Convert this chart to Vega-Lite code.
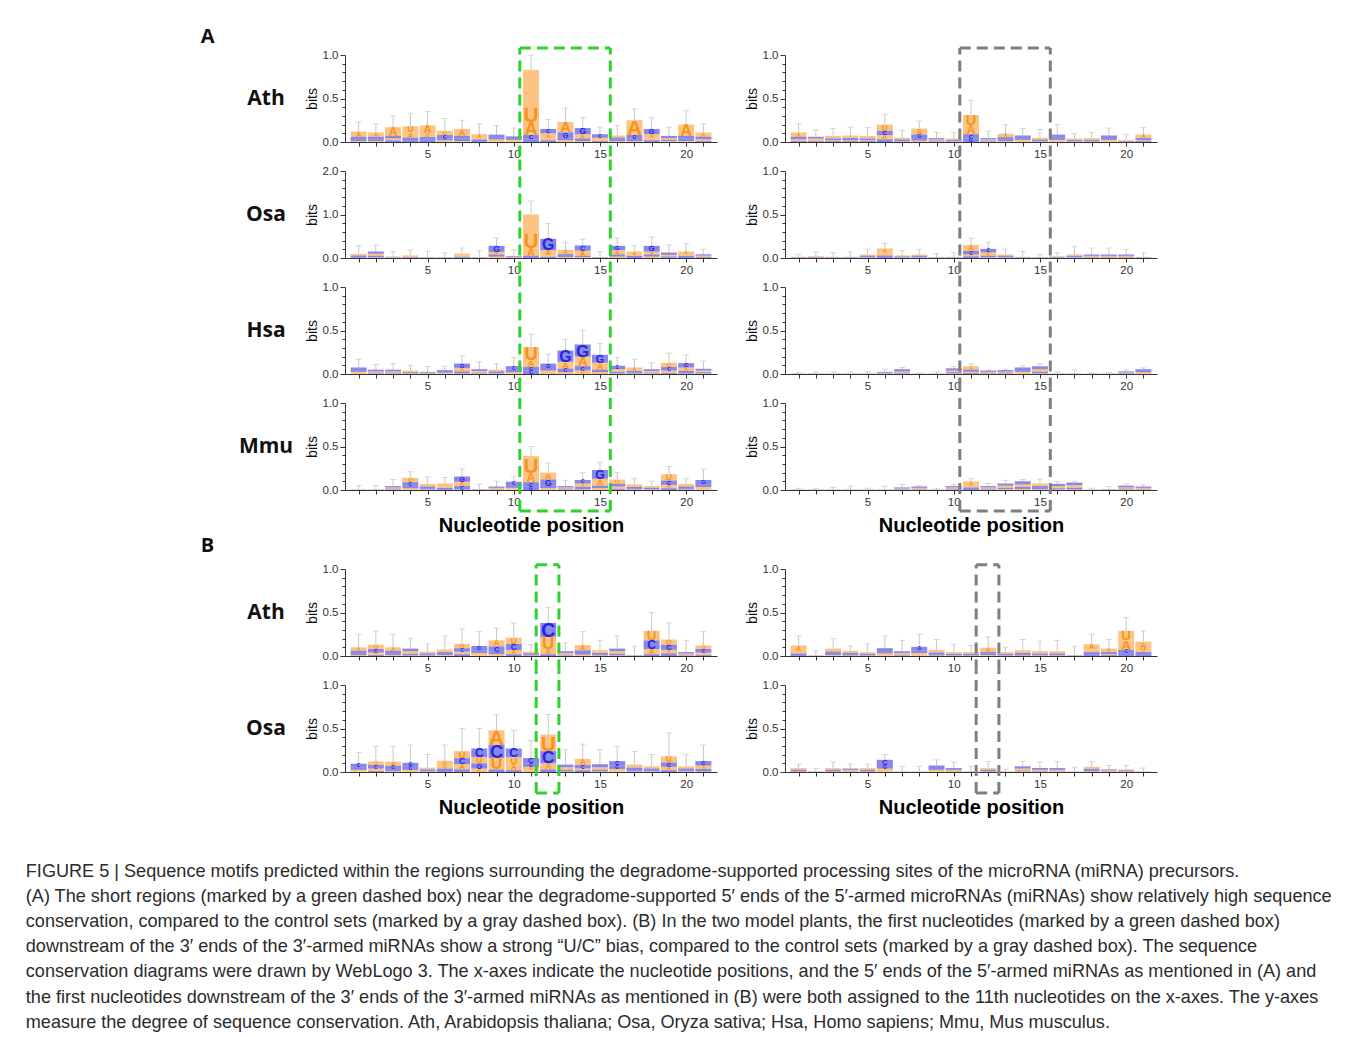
{
"$schema":"https://vega.github.io/schema/vega-lite/v6.json",
"padding":{"left":25,"top":27,"right":10,"bottom":5},
"background":"white",
"config":{"view":{"stroke":null},"font":"Liberation Sans",
"axis":{"grid":false,"domainColor":"#333","tickColor":"#333","labelColor":"#333","labelFont":"Liberation Sans","labelFontSize":11.5,"titleFont":"Liberation Sans","titleColor":"#111","labelOverlap":false,"labelBound":false,"labelFlush":false},
"axisX":{"labelPadding":2,"titleFontSize":20,"titleFontWeight":"bold","titlePadding":8,"titleColor":"#000","tickCount":30},
"axisY":{"labelPadding":2,"titleFontSize":14,"titleFontWeight":"normal","titlePadding":3,"tickCount":30}},
"datasets":{"logo":[
{"p":"a1","pos":1,"A":0.06,"C":0.03,"G":0.02,"U":0.01,"e":0.23},
{"p":"a1","pos":2,"A":0.05,"C":0.03,"G":0.02,"U":0.01,"e":0.21},
{"p":"a1","pos":3,"A":0.1,"C":0.03,"G":0.02,"U":0.02,"e":0.3},
{"p":"a1","pos":4,"A":0.06,"C":0.03,"G":0.02,"U":0.07,"e":0.33},
{"p":"a1","pos":5,"A":0.09,"C":0.03,"G":0.03,"U":0.04,"e":0.35},
{"p":"a1","pos":6,"A":0.02,"C":0.04,"G":0.02,"U":0.05,"e":0.27},
{"p":"a1","pos":7,"A":0.08,"C":0.03,"G":0.03,"U":0.01,"e":0.25},
{"p":"a1","pos":8,"A":0.04,"C":0.02,"G":0.01,"U":0.02,"e":0.21},
{"p":"a1","pos":9,"A":0.02,"C":0.025,"G":0.03,"U":0.01,"e":0.19},
{"p":"a1","pos":10,"A":0.015,"C":0.02,"G":0.02,"U":0.01,"e":0.16},
{"p":"a1","pos":11,"A":0.15,"C":0.05,"G":0.03,"U":0.6,"e":1.0},
{"p":"a1","pos":12,"A":0.05,"C":0.05,"G":0.02,"U":0.03,"e":0.26},
{"p":"a1","pos":13,"A":0.12,"C":0.03,"G":0.06,"U":0.02,"e":0.39},
{"p":"a1","pos":14,"A":0.05,"C":0.03,"G":0.07,"U":0.01,"e":0.28},
{"p":"a1","pos":15,"A":0.02,"C":0.04,"G":0.01,"U":0.02,"e":0.17},
{"p":"a1","pos":16,"A":0.025,"C":0.02,"G":0.02,"U":0.01,"e":0.19},
{"p":"a1","pos":17,"A":0.17,"C":0.03,"G":0.04,"U":0.01,"e":0.38},
{"p":"a1","pos":18,"A":0.04,"C":0.02,"G":0.06,"U":0.03,"e":0.28},
{"p":"a1","pos":19,"A":0.02,"C":0.025,"G":0.015,"U":0.01,"e":0.17},
{"p":"a1","pos":20,"A":0.13,"C":0.03,"G":0.03,"U":0.01,"e":0.36},
{"p":"a1","pos":21,"A":0.05,"C":0.03,"G":0.01,"U":0.02,"e":0.21},
{"p":"a2","pos":1,"A":0.04,"C":0.03,"G":0.02,"U":0.005,"e":0.28},
{"p":"a2","pos":2,"A":0.05,"C":0.04,"G":0.05,"U":0.01,"e":0.3},
{"p":"a2","pos":3,"A":0.01,"C":0.01,"G":0.005,"U":0.005,"e":0.15},
{"p":"a2","pos":4,"A":0.03,"C":0.01,"G":0.01,"U":0.01,"e":0.18},
{"p":"a2","pos":5,"A":0.005,"C":0.005,"G":0.005,"U":0.005,"e":0.15},
{"p":"a2","pos":6,"A":0.005,"C":0.005,"G":0.005,"U":0.005,"e":0.12},
{"p":"a2","pos":7,"A":0.04,"C":0.02,"G":0.01,"U":0.03,"e":0.23},
{"p":"a2","pos":8,"A":0.005,"C":0.005,"G":0.005,"U":0.005,"e":0.17},
{"p":"a2","pos":9,"A":0.06,"C":0.05,"G":0.14,"U":0.03,"e":0.46},
{"p":"a2","pos":10,"A":0.015,"C":0.015,"G":0.01,"U":0.005,"e":0.19},
{"p":"a2","pos":11,"A":0.17,"C":0.03,"G":0.02,"U":0.78,"e":1.31},
{"p":"a2","pos":12,"A":0.12,"C":0.03,"G":0.26,"U":0.03,"e":0.79},
{"p":"a2","pos":13,"A":0.1,"C":0.04,"G":0.03,"U":0.02,"e":0.36},
{"p":"a2","pos":14,"A":0.12,"C":0.12,"G":0.03,"U":0.02,"e":0.43},
{"p":"a2","pos":15,"A":0.01,"C":0.005,"G":0.005,"U":0.005,"e":0.15},
{"p":"a2","pos":16,"A":0.1,"C":0.05,"G":0.1,"U":0.03,"e":0.46},
{"p":"a2","pos":17,"A":0.07,"C":0.03,"G":0.02,"U":0.03,"e":0.28},
{"p":"a2","pos":18,"A":0.07,"C":0.05,"G":0.13,"U":0.03,"e":0.48},
{"p":"a2","pos":19,"A":0.04,"C":0.05,"G":0.03,"U":0.005,"e":0.3},
{"p":"a2","pos":20,"A":0.06,"C":0.03,"G":0.02,"U":0.04,"e":0.33},
{"p":"a2","pos":21,"A":0.03,"C":0.03,"G":0.02,"U":0.005,"e":0.2},
{"p":"a3","pos":1,"A":0.02,"C":0.03,"G":0.02,"U":0.005,"e":0.17},
{"p":"a3","pos":2,"A":0.015,"C":0.02,"G":0.01,"U":0.005,"e":0.11},
{"p":"a3","pos":3,"A":0.015,"C":0.02,"G":0.01,"U":0.005,"e":0.12},
{"p":"a3","pos":4,"A":0.02,"C":0.01,"G":0.005,"U":0.005,"e":0.1},
{"p":"a3","pos":5,"A":0.005,"C":0.01,"G":0.005,"U":0.005,"e":0.085},
{"p":"a3","pos":6,"A":0.01,"C":0.02,"G":0.01,"U":0.005,"e":0.09},
{"p":"a3","pos":7,"A":0.04,"C":0.025,"G":0.05,"U":0.005,"e":0.21},
{"p":"a3","pos":8,"A":0.02,"C":0.02,"G":0.01,"U":0.005,"e":0.14},
{"p":"a3","pos":9,"A":0.02,"C":0.015,"G":0.01,"U":0.005,"e":0.12},
{"p":"a3","pos":10,"A":0.015,"C":0.04,"G":0.03,"U":0.005,"e":0.19},
{"p":"a3","pos":11,"A":0.08,"C":0.04,"G":0.04,"U":0.15,"e":0.46},
{"p":"a3","pos":12,"A":0.03,"C":0.03,"G":0.05,"U":0.01,"e":0.23},
{"p":"a3","pos":13,"A":0.08,"C":0.04,"G":0.13,"U":0.02,"e":0.4},
{"p":"a3","pos":14,"A":0.11,"C":0.05,"G":0.14,"U":0.04,"e":0.5},
{"p":"a3","pos":15,"A":0.08,"C":0.03,"G":0.09,"U":0.02,"e":0.35},
{"p":"a3","pos":16,"A":0.03,"C":0.04,"G":0.02,"U":0.005,"e":0.19},
{"p":"a3","pos":17,"A":0.04,"C":0.02,"G":0.01,"U":0.005,"e":0.17},
{"p":"a3","pos":18,"A":0.02,"C":0.02,"G":0.01,"U":0.005,"e":0.13},
{"p":"a3","pos":19,"A":0.03,"C":0.04,"G":0.01,"U":0.05,"e":0.24},
{"p":"a3","pos":20,"A":0.04,"C":0.05,"G":0.03,"U":0.005,"e":0.22},
{"p":"a3","pos":21,"A":0.02,"C":0.02,"G":0.015,"U":0.005,"e":0.15},
{"p":"a4","pos":1,"A":0.002,"C":0.002,"G":0.001,"U":0.001,"e":0.05},
{"p":"a4","pos":2,"A":0.002,"C":0.002,"G":0.001,"U":0.001,"e":0.05},
{"p":"a4","pos":3,"A":0.015,"C":0.015,"G":0.01,"U":0.005,"e":0.12},
{"p":"a4","pos":4,"A":0.02,"C":0.04,"G":0.03,"U":0.05,"e":0.21},
{"p":"a4","pos":5,"A":0.03,"C":0.02,"G":0.015,"U":0.005,"e":0.15},
{"p":"a4","pos":6,"A":0.03,"C":0.02,"G":0.005,"U":0.02,"e":0.145},
{"p":"a4","pos":7,"A":0.05,"C":0.04,"G":0.06,"U":0.005,"e":0.24},
{"p":"a4","pos":8,"A":0.003,"C":0.003,"G":0.002,"U":0.002,"e":0.065},
{"p":"a4","pos":9,"A":0.015,"C":0.015,"G":0.005,"U":0.005,"e":0.1},
{"p":"a4","pos":10,"A":0.02,"C":0.04,"G":0.03,"U":0.005,"e":0.16},
{"p":"a4","pos":11,"A":0.1,"C":0.05,"G":0.04,"U":0.2,"e":0.5},
{"p":"a4","pos":12,"A":0.08,"C":0.03,"G":0.07,"U":0.02,"e":0.31},
{"p":"a4","pos":13,"A":0.015,"C":0.015,"G":0.01,"U":0.005,"e":0.11},
{"p":"a4","pos":14,"A":0.04,"C":0.04,"G":0.03,"U":0.005,"e":0.2},
{"p":"a4","pos":15,"A":0.08,"C":0.03,"G":0.1,"U":0.02,"e":0.32},
{"p":"a4","pos":16,"A":0.03,"C":0.03,"G":0.01,"U":0.05,"e":0.2},
{"p":"a4","pos":17,"A":0.03,"C":0.02,"G":0.01,"U":0.005,"e":0.13},
{"p":"a4","pos":18,"A":0.02,"C":0.015,"G":0.005,"U":0.005,"e":0.1},
{"p":"a4","pos":19,"A":0.04,"C":0.05,"G":0.02,"U":0.07,"e":0.27},
{"p":"a4","pos":20,"A":0.03,"C":0.02,"G":0.015,"U":0.005,"e":0.13},
{"p":"a4","pos":21,"A":0.03,"C":0.03,"G":0.05,"U":0.005,"e":0.24},
{"p":"r1","pos":1,"A":0.05,"C":0.03,"G":0.01,"U":0.02,"e":0.21},
{"p":"r1","pos":2,"A":0.02,"C":0.02,"G":0.01,"U":0.01,"e":0.14},
{"p":"r1","pos":3,"A":0.03,"C":0.02,"G":0.01,"U":0.01,"e":0.155},
{"p":"r1","pos":4,"A":0.03,"C":0.025,"G":0.01,"U":0.01,"e":0.17},
{"p":"r1","pos":5,"A":0.03,"C":0.02,"G":0.01,"U":0.01,"e":0.165},
{"p":"r1","pos":6,"A":0.05,"C":0.05,"G":0.03,"U":0.07,"e":0.32},
{"p":"r1","pos":7,"A":0.02,"C":0.015,"G":0.01,"U":0.005,"e":0.135},
{"p":"r1","pos":8,"A":0.07,"C":0.03,"G":0.04,"U":0.015,"e":0.24},
{"p":"r1","pos":9,"A":0.015,"C":0.015,"G":0.01,"U":0.005,"e":0.11},
{"p":"r1","pos":10,"A":0.015,"C":0.01,"G":0.01,"U":0.005,"e":0.11},
{"p":"r1","pos":11,"A":0.1,"C":0.05,"G":0.04,"U":0.12,"e":0.48},
{"p":"r1","pos":12,"A":0.015,"C":0.015,"G":0.01,"U":0.005,"e":0.125},
{"p":"r1","pos":13,"A":0.04,"C":0.03,"G":0.015,"U":0.01,"e":0.2},
{"p":"r1","pos":14,"A":0.02,"C":0.03,"G":0.02,"U":0.005,"e":0.155},
{"p":"r1","pos":15,"A":0.02,"C":0.015,"G":0.01,"U":0.005,"e":0.145},
{"p":"r1","pos":16,"A":0.02,"C":0.035,"G":0.025,"U":0.005,"e":0.2},
{"p":"r1","pos":17,"A":0.015,"C":0.01,"G":0.01,"U":0.005,"e":0.095},
{"p":"r1","pos":18,"A":0.02,"C":0.01,"G":0.01,"U":0.005,"e":0.11},
{"p":"r1","pos":19,"A":0.02,"C":0.03,"G":0.02,"U":0.005,"e":0.16},
{"p":"r1","pos":20,"A":0.008,"C":0.006,"G":0.004,"U":0.002,"e":0.085},
{"p":"r1","pos":21,"A":0.04,"C":0.025,"G":0.01,"U":0.01,"e":0.165},
{"p":"r2","pos":1,"A":0.005,"C":0.004,"G":0.003,"U":0.002,"e":0.04},
{"p":"r2","pos":2,"A":0.008,"C":0.006,"G":0.004,"U":0.002,"e":0.07},
{"p":"r2","pos":3,"A":0.005,"C":0.004,"G":0.003,"U":0.002,"e":0.06},
{"p":"r2","pos":4,"A":0.005,"C":0.004,"G":0.003,"U":0.002,"e":0.07},
{"p":"r2","pos":5,"A":0.015,"C":0.012,"G":0.008,"U":0.005,"e":0.1},
{"p":"r2","pos":6,"A":0.05,"C":0.02,"G":0.01,"U":0.03,"e":0.17},
{"p":"r2","pos":7,"A":0.012,"C":0.01,"G":0.005,"U":0.003,"e":0.085},
{"p":"r2","pos":8,"A":0.015,"C":0.012,"G":0.008,"U":0.005,"e":0.1},
{"p":"r2","pos":9,"A":0.003,"C":0.003,"G":0.002,"U":0.002,"e":0.05},
{"p":"r2","pos":10,"A":0.004,"C":0.004,"G":0.002,"U":0.002,"e":0.06},
{"p":"r2","pos":11,"A":0.07,"C":0.04,"G":0.02,"U":0.02,"e":0.23},
{"p":"r2","pos":12,"A":0.04,"C":0.04,"G":0.02,"U":0.005,"e":0.18},
{"p":"r2","pos":13,"A":0.015,"C":0.012,"G":0.008,"U":0.005,"e":0.1},
{"p":"r2","pos":14,"A":0.005,"C":0.004,"G":0.003,"U":0.002,"e":0.075},
{"p":"r2","pos":15,"A":0.003,"C":0.002,"G":0.002,"U":0.001,"e":0.04},
{"p":"r2","pos":16,"A":0.008,"C":0.006,"G":0.004,"U":0.002,"e":0.06},
{"p":"r2","pos":17,"A":0.015,"C":0.012,"G":0.008,"U":0.005,"e":0.13},
{"p":"r2","pos":18,"A":0.012,"C":0.015,"G":0.008,"U":0.005,"e":0.115},
{"p":"r2","pos":19,"A":0.012,"C":0.015,"G":0.008,"U":0.005,"e":0.115},
{"p":"r2","pos":20,"A":0.012,"C":0.015,"G":0.008,"U":0.005,"e":0.1},
{"p":"r2","pos":21,"A":0.004,"C":0.004,"G":0.002,"U":0.002,"e":0.06},
{"p":"r3","pos":1,"A":0.002,"C":0.002,"G":0.001,"U":0.001,"e":0.015},
{"p":"r3","pos":2,"A":0.002,"C":0.002,"G":0.001,"U":0.001,"e":0.025},
{"p":"r3","pos":3,"A":0.002,"C":0.002,"G":0.001,"U":0.001,"e":0.025},
{"p":"r3","pos":4,"A":0.002,"C":0.002,"G":0.001,"U":0.001,"e":0.025},
{"p":"r3","pos":5,"A":0.002,"C":0.002,"G":0.001,"U":0.001,"e":0.025},
{"p":"r3","pos":6,"A":0.008,"C":0.01,"G":0.005,"U":0.002,"e":0.055},
{"p":"r3","pos":7,"A":0.015,"C":0.025,"G":0.01,"U":0.005,"e":0.075},
{"p":"r3","pos":8,"A":0.001,"C":0.001,"G":0.001,"U":0.001,"e":0.01},
{"p":"r3","pos":9,"A":0.002,"C":0.002,"G":0.001,"U":0.001,"e":0.025},
{"p":"r3","pos":10,"A":0.02,"C":0.025,"G":0.015,"U":0.005,"e":0.085},
{"p":"r3","pos":11,"A":0.04,"C":0.025,"G":0.01,"U":0.015,"e":0.115},
{"p":"r3","pos":12,"A":0.012,"C":0.015,"G":0.008,"U":0.005,"e":0.045},
{"p":"r3","pos":13,"A":0.012,"C":0.018,"G":0.01,"U":0.005,"e":0.055},
{"p":"r3","pos":14,"A":0.02,"C":0.03,"G":0.02,"U":0.005,"e":0.095},
{"p":"r3","pos":15,"A":0.03,"C":0.035,"G":0.02,"U":0.005,"e":0.12},
{"p":"r3","pos":16,"A":0.002,"C":0.002,"G":0.001,"U":0.001,"e":0.025},
{"p":"r3","pos":17,"A":0.002,"C":0.002,"G":0.001,"U":0.001,"e":0.045},
{"p":"r3","pos":18,"A":0.001,"C":0.001,"G":0.001,"U":0.001,"e":0.01},
{"p":"r3","pos":19,"A":0.002,"C":0.002,"G":0.001,"U":0.001,"e":0.015},
{"p":"r3","pos":20,"A":0.01,"C":0.012,"G":0.006,"U":0.002,"e":0.045},
{"p":"r3","pos":21,"A":0.015,"C":0.02,"G":0.015,"U":0.005,"e":0.07},
{"p":"r4","pos":1,"A":0.002,"C":0.002,"G":0.001,"U":0.001,"e":0.02},
{"p":"r4","pos":2,"A":0.002,"C":0.002,"G":0.001,"U":0.001,"e":0.02},
{"p":"r4","pos":3,"A":0.002,"C":0.002,"G":0.001,"U":0.001,"e":0.03},
{"p":"r4","pos":4,"A":0.002,"C":0.002,"G":0.001,"U":0.001,"e":0.045},
{"p":"r4","pos":5,"A":0.002,"C":0.002,"G":0.001,"U":0.001,"e":0.02},
{"p":"r4","pos":6,"A":0.002,"C":0.002,"G":0.001,"U":0.001,"e":0.045},
{"p":"r4","pos":7,"A":0.01,"C":0.012,"G":0.006,"U":0.002,"e":0.065},
{"p":"r4","pos":8,"A":0.012,"C":0.015,"G":0.008,"U":0.005,"e":0.05},
{"p":"r4","pos":9,"A":0.002,"C":0.002,"G":0.001,"U":0.001,"e":0.02},
{"p":"r4","pos":10,"A":0.015,"C":0.015,"G":0.01,"U":0.005,"e":0.065},
{"p":"r4","pos":11,"A":0.05,"C":0.02,"G":0.01,"U":0.02,"e":0.13},
{"p":"r4","pos":12,"A":0.015,"C":0.015,"G":0.01,"U":0.005,"e":0.075},
{"p":"r4","pos":13,"A":0.025,"C":0.025,"G":0.015,"U":0.01,"e":0.11},
{"p":"r4","pos":14,"A":0.03,"C":0.035,"G":0.025,"U":0.01,"e":0.12},
{"p":"r4","pos":15,"A":0.03,"C":0.02,"G":0.015,"U":0.01,"e":0.125},
{"p":"r4","pos":16,"A":0.025,"C":0.025,"G":0.015,"U":0.005,"e":0.095},
{"p":"r4","pos":17,"A":0.03,"C":0.03,"G":0.02,"U":0.005,"e":0.1},
{"p":"r4","pos":18,"A":0.002,"C":0.002,"G":0.001,"U":0.001,"e":0.02},
{"p":"r4","pos":19,"A":0.004,"C":0.003,"G":0.002,"U":0.001,"e":0.04},
{"p":"r4","pos":20,"A":0.015,"C":0.02,"G":0.01,"U":0.005,"e":0.07},
{"p":"r4","pos":21,"A":0.012,"C":0.015,"G":0.008,"U":0.005,"e":0.06},
{"p":"b1","pos":1,"A":0.04,"C":0.03,"G":0.02,"U":0.01,"e":0.25},
{"p":"b1","pos":2,"A":0.03,"C":0.04,"G":0.01,"U":0.05,"e":0.285},
{"p":"b1","pos":3,"A":0.04,"C":0.03,"G":0.02,"U":0.01,"e":0.25},
{"p":"b1","pos":4,"A":0.03,"C":0.03,"G":0.02,"U":0.005,"e":0.2},
{"p":"b1","pos":5,"A":0.02,"C":0.015,"G":0.01,"U":0.005,"e":0.14},
{"p":"b1","pos":6,"A":0.03,"C":0.02,"G":0.015,"U":0.01,"e":0.23},
{"p":"b1","pos":7,"A":0.03,"C":0.04,"G":0.02,"U":0.05,"e":0.31},
{"p":"b1","pos":8,"A":0.03,"C":0.05,"G":0.03,"U":0.005,"e":0.28},
{"p":"b1","pos":9,"A":0.07,"C":0.06,"G":0.03,"U":0.02,"e":0.32},
{"p":"b1","pos":10,"A":0.05,"C":0.07,"G":0.02,"U":0.07,"e":0.38},
{"p":"b1","pos":11,"A":0.02,"C":0.015,"G":0.01,"U":0.005,"e":0.13},
{"p":"b1","pos":12,"A":0.06,"C":0.16,"G":0.02,"U":0.14,"e":0.56},
{"p":"b1","pos":13,"A":0.02,"C":0.02,"G":0.01,"U":0.005,"e":0.15},
{"p":"b1","pos":14,"A":0.06,"C":0.03,"G":0.02,"U":0.015,"e":0.28},
{"p":"b1","pos":15,"A":0.03,"C":0.02,"G":0.01,"U":0.005,"e":0.18},
{"p":"b1","pos":16,"A":0.03,"C":0.03,"G":0.02,"U":0.005,"e":0.23},
{"p":"b1","pos":17,"A":0.004,"C":0.003,"G":0.002,"U":0.001,"e":0.11},
{"p":"b1","pos":18,"A":0.06,"C":0.1,"G":0.02,"U":0.11,"e":0.5},
{"p":"b1","pos":19,"A":0.04,"C":0.06,"G":0.03,"U":0.06,"e":0.38},
{"p":"b1","pos":20,"A":0.015,"C":0.015,"G":0.01,"U":0.005,"e":0.18},
{"p":"b1","pos":21,"A":0.03,"C":0.04,"G":0.01,"U":0.04,"e":0.28},
{"p":"b2","pos":1,"A":0.02,"C":0.04,"G":0.03,"U":0.005,"e":0.225},
{"p":"b2","pos":2,"A":0.03,"C":0.04,"G":0.01,"U":0.04,"e":0.295},
{"p":"b2","pos":3,"A":0.05,"C":0.04,"G":0.02,"U":0.01,"e":0.295},
{"p":"b2","pos":4,"A":0.02,"C":0.04,"G":0.04,"U":0.005,"e":0.31},
{"p":"b2","pos":5,"A":0.02,"C":0.015,"G":0.01,"U":0.005,"e":0.2},
{"p":"b2","pos":6,"A":0.05,"C":0.03,"G":0.01,"U":0.04,"e":0.31},
{"p":"b2","pos":7,"A":0.06,"C":0.07,"G":0.03,"U":0.08,"e":0.5},
{"p":"b2","pos":8,"A":0.04,"C":0.1,"G":0.06,"U":0.07,"e":0.5},
{"p":"b2","pos":9,"A":0.17,"C":0.15,"G":0.03,"U":0.13,"e":0.66},
{"p":"b2","pos":10,"A":0.07,"C":0.1,"G":0.02,"U":0.08,"e":0.48},
{"p":"b2","pos":11,"A":0.04,"C":0.06,"G":0.04,"U":0.02,"e":0.36},
{"p":"b2","pos":12,"A":0.07,"C":0.14,"G":0.03,"U":0.19,"e":0.66},
{"p":"b2","pos":13,"A":0.03,"C":0.03,"G":0.02,"U":0.005,"e":0.255},
{"p":"b2","pos":14,"A":0.07,"C":0.04,"G":0.02,"U":0.02,"e":0.32},
{"p":"b2","pos":15,"A":0.03,"C":0.035,"G":0.02,"U":0.005,"e":0.255},
{"p":"b2","pos":16,"A":0.03,"C":0.05,"G":0.04,"U":0.005,"e":0.295},
{"p":"b2","pos":17,"A":0.035,"C":0.03,"G":0.015,"U":0.005,"e":0.235},
{"p":"b2","pos":18,"A":0.025,"C":0.02,"G":0.015,"U":0.005,"e":0.2},
{"p":"b2","pos":19,"A":0.04,"C":0.05,"G":0.02,"U":0.07,"e":0.45},
{"p":"b2","pos":20,"A":0.025,"C":0.02,"G":0.015,"U":0.005,"e":0.2},
{"p":"b2","pos":21,"A":0.04,"C":0.05,"G":0.03,"U":0.005,"e":0.31},
{"p":"b3","pos":1,"A":0.06,"C":0.02,"G":0.01,"U":0.03,"e":0.23},
{"p":"b3","pos":2,"A":0.002,"C":0.002,"G":0.001,"U":0.001,"e":0.06},
{"p":"b3","pos":3,"A":0.035,"C":0.025,"G":0.015,"U":0.01,"e":0.2},
{"p":"b3","pos":4,"A":0.025,"C":0.02,"G":0.01,"U":0.005,"e":0.115},
{"p":"b3","pos":5,"A":0.02,"C":0.015,"G":0.005,"U":0.005,"e":0.14},
{"p":"b3","pos":6,"A":0.025,"C":0.035,"G":0.025,"U":0.005,"e":0.23},
{"p":"b3","pos":7,"A":0.02,"C":0.02,"G":0.01,"U":0.005,"e":0.18},
{"p":"b3","pos":8,"A":0.03,"C":0.03,"G":0.04,"U":0.005,"e":0.25},
{"p":"b3","pos":9,"A":0.03,"C":0.02,"G":0.015,"U":0.005,"e":0.19},
{"p":"b3","pos":10,"A":0.02,"C":0.015,"G":0.005,"U":0.005,"e":0.135},
{"p":"b3","pos":11,"A":0.02,"C":0.015,"G":0.005,"U":0.005,"e":0.12},
{"p":"b3","pos":12,"A":0.05,"C":0.02,"G":0.015,"U":0.01,"e":0.22},
{"p":"b3","pos":13,"A":0.02,"C":0.015,"G":0.005,"U":0.005,"e":0.1},
{"p":"b3","pos":14,"A":0.03,"C":0.02,"G":0.01,"U":0.005,"e":0.19},
{"p":"b3","pos":15,"A":0.025,"C":0.015,"G":0.01,"U":0.005,"e":0.17},
{"p":"b3","pos":16,"A":0.025,"C":0.015,"G":0.01,"U":0.005,"e":0.18},
{"p":"b3","pos":17,"A":0.004,"C":0.003,"G":0.002,"U":0.001,"e":0.11},
{"p":"b3","pos":18,"A":0.06,"C":0.03,"G":0.015,"U":0.03,"e":0.25},
{"p":"b3","pos":19,"A":0.04,"C":0.025,"G":0.01,"U":0.01,"e":0.19},
{"p":"b3","pos":20,"A":0.11,"C":0.04,"G":0.03,"U":0.11,"e":0.44},
{"p":"b3","pos":21,"A":0.08,"C":0.03,"G":0.015,"U":0.04,"e":0.29},
{"p":"b4","pos":1,"A":0.02,"C":0.015,"G":0.005,"U":0.005,"e":0.09},
{"p":"b4","pos":2,"A":0.002,"C":0.002,"G":0.001,"U":0.001,"e":0.04},
{"p":"b4","pos":3,"A":0.02,"C":0.015,"G":0.005,"U":0.005,"e":0.115},
{"p":"b4","pos":4,"A":0.015,"C":0.015,"G":0.005,"U":0.005,"e":0.09},
{"p":"b4","pos":5,"A":0.02,"C":0.015,"G":0.005,"U":0.005,"e":0.09},
{"p":"b4","pos":6,"A":0.03,"C":0.06,"G":0.04,"U":0.01,"e":0.2},
{"p":"b4","pos":7,"A":0.002,"C":0.002,"G":0.001,"U":0.001,"e":0.065},
{"p":"b4","pos":8,"A":0.002,"C":0.002,"G":0.001,"U":0.001,"e":0.065},
{"p":"b4","pos":9,"A":0.02,"C":0.03,"G":0.02,"U":0.005,"e":0.14},
{"p":"b4","pos":10,"A":0.015,"C":0.02,"G":0.005,"U":0.005,"e":0.115},
{"p":"b4","pos":11,"A":0.002,"C":0.002,"G":0.001,"U":0.001,"e":0.065},
{"p":"b4","pos":12,"A":0.02,"C":0.015,"G":0.005,"U":0.005,"e":0.12},
{"p":"b4","pos":13,"A":0.002,"C":0.002,"G":0.001,"U":0.001,"e":0.03},
{"p":"b4","pos":14,"A":0.025,"C":0.025,"G":0.01,"U":0.005,"e":0.12},
{"p":"b4","pos":15,"A":0.015,"C":0.02,"G":0.005,"U":0.005,"e":0.115},
{"p":"b4","pos":16,"A":0.015,"C":0.02,"G":0.005,"U":0.005,"e":0.12},
{"p":"b4","pos":17,"A":0.002,"C":0.002,"G":0.001,"U":0.001,"e":0.055},
{"p":"b4","pos":18,"A":0.025,"C":0.02,"G":0.01,"U":0.005,"e":0.12},
{"p":"b4","pos":19,"A":0.01,"C":0.01,"G":0.005,"U":0.005,"e":0.075},
{"p":"b4","pos":20,"A":0.012,"C":0.01,"G":0.005,"U":0.003,"e":0.075},
{"p":"b4","pos":21,"A":0.002,"C":0.002,"G":0.001,"U":0.001,"e":0.045}
]},
"title":{"text":[
"FIGURE 5 | Sequence motifs predicted within the regions surrounding the degradome-supported processing sites of the microRNA (miRNA) precursors.",
"(A) The short regions (marked by a green dashed box) near the degradome-supported 5′ ends of the 5′-armed microRNAs (miRNAs) show relatively high sequence",
"conservation, compared to the control sets (marked by a gray dashed box). (B) In the two model plants, the first nucleotides (marked by a green dashed box)",
"downstream of the 3′ ends of the 3′-armed miRNAs show a strong “U/C” bias, compared to the control sets (marked by a gray dashed box). The sequence",
"conservation diagrams were drawn by WebLogo 3. The x-axes indicate the nucleotide positions, and the 5′ ends of the 5′-armed miRNAs as mentioned in (A) and",
"the first nucleotides downstream of the 3′ ends of the 3′-armed miRNAs as mentioned in (B) were both assigned to the 11th nucleotides on the x-axes. The y-axes",
"measure the degree of sequence conservation. Ath, Arabidopsis thaliana; Osa, Oryza sativa; Hsa, Homo sapiens; Mmu, Mus musculus."],
"orient":"bottom","anchor":"start","frame":"bounds","dx":-175,"offset":45,"font":"Liberation Sans","fontSize":18.1,"fontWeight":"normal","color":"#2b2b2b","lineHeight":25.2},
"columns":3,
"spacing":{"row":29,"column":68},
"bounds":"flush",
"resolve":{"scale":{"size":"independent"}},
"concat":[
{"title":{"text":"A","anchor":"start","dx":-46.5,"offset":-8,"baseline":"alphabetic","font":"Open Sans","fontSize":20,"fontWeight":"bold","color":"#111"},"width":22,"height":87,"data":{"values":[{"sp":"Ath"}]},"mark":{"type":"text","font":"Open Sans","fontSize":21,"fontWeight":"bold","color":"#111"},"encoding":{"text":{"field":"sp"}}},
{"width":372,"height":87,
"encoding":{"x":{"field":"pos","type":"quantitative","scale":{"domain":[0.5,21.5],"nice":false,"zero":false},"axis":{"values":[1,2,3,4,5,6,7,8,9,10,11,12,13,14,15,16,17,18,19,20,21],"tickCount":30,"labelExpr":"datum.value % 5 == 0 ? datum.label : ''","tickSize":4,"title":null}}},
"layer":[
{"data":{"name":"logo"},"transform":[{"filter":"datum.p=='a1'"},{"fold":["A","C","G","U"],"as":["l","b"]},{"filter":"datum.b>0"},{"stack":"b","groupby":["pos"],"sort":[{"field":"b","order":"ascending"}],"as":["b0","b1"]}],
"layer":[
{"transform":[{"aggregate":[{"op":"max","field":"b1","as":"t"},{"op":"max","field":"e","as":"e"}],"groupby":["pos"]}],"layer":[
{"mark":{"type":"rule","color":"#c8c8c8","strokeWidth":1},"encoding":{"y":{"field":"t","type":"quantitative","scale":{"domain":[0,1],"nice":false},"axis":{"values":[0,0.1,0.2,0.3,0.4,0.5,0.6,0.7,0.8,0.9,1],"tickCount":30,"labelExpr":"abs(datum.value*2-round(datum.value*2))<0.001 ? format(datum.value,'.1f') : ''","tickSize":{"condition":{"test":"abs(datum.value*2-round(datum.value*2))<0.001","value":5},"value":3},"title":"bits"}},"y2":{"field":"e"}}},
{"mark":{"type":"tick","orient":"horizontal","size":6,"thickness":1,"color":"#c8c8c8"},"encoding":{"y":{"field":"e","type":"quantitative","title":"bits"}}}]},
{"mark":{"type":"bar","width":16,"opacity":0.55},"encoding":{"y":{"field":"b0","type":"quantitative","title":"bits"},"y2":{"field":"b1"},"color":{"field":"l","type":"nominal","scale":{"domain":["A","C","G","U"],"range":["#f7941e","#2525dc","#2525dc","#f7941e"]},"legend":null}}},
{"transform":[{"filter":"datum.b>=0.04"}],"mark":{"type":"text","baseline":"alphabetic","font":"Liberation Sans","fontWeight":"bold"},"encoding":{"y":{"field":"b0","type":"quantitative","title":"bits"},"text":{"field":"l"},"color":{"field":"l","type":"nominal","legend":null},"size":{"field":"b","type":"quantitative","scale":{"domain":[0,0.17],"range":[0,20.7],"clamp":true},"legend":null}}}
]},
{"data":{"name":"logo"},"transform":[{"filter":"datum.p=='a1' && datum.pos==1"}],"layer":[
{"mark":{"type":"rule","color":"#2fd12f","strokeWidth":3,"strokeDash":[11,6]},"encoding":{"x":{"datum":10.35,"type":"quantitative"},"y":{"datum":-0.1667,"type":"quantitative","title":"bits"},"y2":{"datum":1.08}}},
{"mark":{"type":"rule","color":"#2fd12f","strokeWidth":3,"strokeDash":[11,6]},"encoding":{"x":{"datum":15.6,"type":"quantitative"},"y":{"datum":-0.1667,"type":"quantitative","title":"bits"},"y2":{"datum":1.08}}},
{"mark":{"type":"rule","color":"#2fd12f","strokeWidth":3,"strokeDash":[11,6]},"encoding":{"x":{"datum":10.35,"type":"quantitative"},"x2":{"datum":15.6},"y":{"datum":1.08,"type":"quantitative","title":"bits"}}}]}
]},
{"width":372,"height":87,
"encoding":{"x":{"field":"pos","type":"quantitative","scale":{"domain":[0.5,21.5],"nice":false,"zero":false},"axis":{"values":[1,2,3,4,5,6,7,8,9,10,11,12,13,14,15,16,17,18,19,20,21],"tickCount":30,"labelExpr":"datum.value % 5 == 0 ? datum.label : ''","tickSize":4,"title":null}}},
"layer":[
{"data":{"name":"logo"},"transform":[{"filter":"datum.p=='r1'"},{"fold":["A","C","G","U"],"as":["l","b"]},{"filter":"datum.b>0"},{"stack":"b","groupby":["pos"],"sort":[{"field":"b","order":"ascending"}],"as":["b0","b1"]}],
"layer":[
{"transform":[{"aggregate":[{"op":"max","field":"b1","as":"t"},{"op":"max","field":"e","as":"e"}],"groupby":["pos"]}],"layer":[
{"mark":{"type":"rule","color":"#c8c8c8","strokeWidth":1},"encoding":{"y":{"field":"t","type":"quantitative","scale":{"domain":[0,1],"nice":false},"axis":{"values":[0,0.1,0.2,0.3,0.4,0.5,0.6,0.7,0.8,0.9,1],"tickCount":30,"labelExpr":"abs(datum.value*2-round(datum.value*2))<0.001 ? format(datum.value,'.1f') : ''","tickSize":{"condition":{"test":"abs(datum.value*2-round(datum.value*2))<0.001","value":5},"value":3},"title":"bits"}},"y2":{"field":"e"}}},
{"mark":{"type":"tick","orient":"horizontal","size":6,"thickness":1,"color":"#c8c8c8"},"encoding":{"y":{"field":"e","type":"quantitative","title":"bits"}}}]},
{"mark":{"type":"bar","width":16,"opacity":0.55},"encoding":{"y":{"field":"b0","type":"quantitative","title":"bits"},"y2":{"field":"b1"},"color":{"field":"l","type":"nominal","scale":{"domain":["A","C","G","U"],"range":["#f7941e","#2525dc","#2525dc","#f7941e"]},"legend":null}}},
{"transform":[{"filter":"datum.b>=0.04"}],"mark":{"type":"text","baseline":"alphabetic","font":"Liberation Sans","fontWeight":"bold"},"encoding":{"y":{"field":"b0","type":"quantitative","title":"bits"},"text":{"field":"l"},"color":{"field":"l","type":"nominal","legend":null},"size":{"field":"b","type":"quantitative","scale":{"domain":[0,0.17],"range":[0,20.7],"clamp":true},"legend":null}}}
]},
{"data":{"name":"logo"},"transform":[{"filter":"datum.p=='r1' && datum.pos==1"}],"layer":[
{"mark":{"type":"rule","color":"#7f7f7f","strokeWidth":3,"strokeDash":[11,6]},"encoding":{"x":{"datum":10.35,"type":"quantitative"},"y":{"datum":-0.1667,"type":"quantitative","title":"bits"},"y2":{"datum":1.08}}},
{"mark":{"type":"rule","color":"#7f7f7f","strokeWidth":3,"strokeDash":[11,6]},"encoding":{"x":{"datum":15.6,"type":"quantitative"},"y":{"datum":-0.1667,"type":"quantitative","title":"bits"},"y2":{"datum":1.08}}},
{"mark":{"type":"rule","color":"#7f7f7f","strokeWidth":3,"strokeDash":[11,6]},"encoding":{"x":{"datum":10.35,"type":"quantitative"},"x2":{"datum":15.6},"y":{"datum":1.08,"type":"quantitative","title":"bits"}}}]}
]},
{"width":22,"height":87,"data":{"values":[{"sp":"Osa"}]},"mark":{"type":"text","font":"Open Sans","fontSize":21,"fontWeight":"bold","color":"#111"},"encoding":{"text":{"field":"sp"}}},
{"width":372,"height":87,
"encoding":{"x":{"field":"pos","type":"quantitative","scale":{"domain":[0.5,21.5],"nice":false,"zero":false},"axis":{"values":[1,2,3,4,5,6,7,8,9,10,11,12,13,14,15,16,17,18,19,20,21],"tickCount":30,"labelExpr":"datum.value % 5 == 0 ? datum.label : ''","tickSize":4,"title":null}}},
"layer":[
{"data":{"name":"logo"},"transform":[{"filter":"datum.p=='a2'"},{"fold":["A","C","G","U"],"as":["l","b"]},{"filter":"datum.b>0"},{"stack":"b","groupby":["pos"],"sort":[{"field":"b","order":"ascending"}],"as":["b0","b1"]}],
"layer":[
{"transform":[{"aggregate":[{"op":"max","field":"b1","as":"t"},{"op":"max","field":"e","as":"e"}],"groupby":["pos"]}],"layer":[
{"mark":{"type":"rule","color":"#c8c8c8","strokeWidth":1},"encoding":{"y":{"field":"t","type":"quantitative","scale":{"domain":[0,2],"nice":false},"axis":{"values":[0,0.2,0.4,0.6,0.8,1,1.2,1.4,1.6,1.8,2],"tickCount":30,"labelExpr":"abs(datum.value*2-round(datum.value*2))<0.001 ? format(datum.value,'.1f') : ''","tickSize":{"condition":{"test":"abs(datum.value*2-round(datum.value*2))<0.001","value":5},"value":3},"title":"bits"}},"y2":{"field":"e"}}},
{"mark":{"type":"tick","orient":"horizontal","size":6,"thickness":1,"color":"#c8c8c8"},"encoding":{"y":{"field":"e","type":"quantitative","title":"bits"}}}]},
{"mark":{"type":"bar","width":16,"opacity":0.55},"encoding":{"y":{"field":"b0","type":"quantitative","title":"bits"},"y2":{"field":"b1"},"color":{"field":"l","type":"nominal","scale":{"domain":["A","C","G","U"],"range":["#f7941e","#2525dc","#2525dc","#f7941e"]},"legend":null}}},
{"transform":[{"filter":"datum.b>=0.06"}],"mark":{"type":"text","baseline":"alphabetic","font":"Liberation Sans","fontWeight":"bold"},"encoding":{"y":{"field":"b0","type":"quantitative","title":"bits"},"text":{"field":"l"},"color":{"field":"l","type":"nominal","legend":null},"size":{"field":"b","type":"quantitative","scale":{"domain":[0,0.34],"range":[0,20.7],"clamp":true},"legend":null}}}
]},
{"data":{"name":"logo"},"transform":[{"filter":"datum.p=='a2' && datum.pos==1"}],"layer":[
{"mark":{"type":"rule","color":"#2fd12f","strokeWidth":3,"strokeDash":[11,6]},"encoding":{"x":{"datum":10.35,"type":"quantitative"},"y":{"datum":-0.3333,"type":"quantitative","title":"bits"},"y2":{"datum":2.3333}}},
{"mark":{"type":"rule","color":"#2fd12f","strokeWidth":3,"strokeDash":[11,6]},"encoding":{"x":{"datum":15.6,"type":"quantitative"},"y":{"datum":-0.3333,"type":"quantitative","title":"bits"},"y2":{"datum":2.3333}}}]}
]},
{"width":372,"height":87,
"encoding":{"x":{"field":"pos","type":"quantitative","scale":{"domain":[0.5,21.5],"nice":false,"zero":false},"axis":{"values":[1,2,3,4,5,6,7,8,9,10,11,12,13,14,15,16,17,18,19,20,21],"tickCount":30,"labelExpr":"datum.value % 5 == 0 ? datum.label : ''","tickSize":4,"title":null}}},
"layer":[
{"data":{"name":"logo"},"transform":[{"filter":"datum.p=='r2'"},{"fold":["A","C","G","U"],"as":["l","b"]},{"filter":"datum.b>0"},{"stack":"b","groupby":["pos"],"sort":[{"field":"b","order":"ascending"}],"as":["b0","b1"]}],
"layer":[
{"transform":[{"aggregate":[{"op":"max","field":"b1","as":"t"},{"op":"max","field":"e","as":"e"}],"groupby":["pos"]}],"layer":[
{"mark":{"type":"rule","color":"#c8c8c8","strokeWidth":1},"encoding":{"y":{"field":"t","type":"quantitative","scale":{"domain":[0,1],"nice":false},"axis":{"values":[0,0.1,0.2,0.3,0.4,0.5,0.6,0.7,0.8,0.9,1],"tickCount":30,"labelExpr":"abs(datum.value*2-round(datum.value*2))<0.001 ? format(datum.value,'.1f') : ''","tickSize":{"condition":{"test":"abs(datum.value*2-round(datum.value*2))<0.001","value":5},"value":3},"title":"bits"}},"y2":{"field":"e"}}},
{"mark":{"type":"tick","orient":"horizontal","size":6,"thickness":1,"color":"#c8c8c8"},"encoding":{"y":{"field":"e","type":"quantitative","title":"bits"}}}]},
{"mark":{"type":"bar","width":16,"opacity":0.55},"encoding":{"y":{"field":"b0","type":"quantitative","title":"bits"},"y2":{"field":"b1"},"color":{"field":"l","type":"nominal","scale":{"domain":["A","C","G","U"],"range":["#f7941e","#2525dc","#2525dc","#f7941e"]},"legend":null}}},
{"transform":[{"filter":"datum.b>=0.04"}],"mark":{"type":"text","baseline":"alphabetic","font":"Liberation Sans","fontWeight":"bold"},"encoding":{"y":{"field":"b0","type":"quantitative","title":"bits"},"text":{"field":"l"},"color":{"field":"l","type":"nominal","legend":null},"size":{"field":"b","type":"quantitative","scale":{"domain":[0,0.17],"range":[0,20.7],"clamp":true},"legend":null}}}
]},
{"data":{"name":"logo"},"transform":[{"filter":"datum.p=='r2' && datum.pos==1"}],"layer":[
{"mark":{"type":"rule","color":"#7f7f7f","strokeWidth":3,"strokeDash":[11,6]},"encoding":{"x":{"datum":10.35,"type":"quantitative"},"y":{"datum":-0.1667,"type":"quantitative","title":"bits"},"y2":{"datum":1.1667}}},
{"mark":{"type":"rule","color":"#7f7f7f","strokeWidth":3,"strokeDash":[11,6]},"encoding":{"x":{"datum":15.6,"type":"quantitative"},"y":{"datum":-0.1667,"type":"quantitative","title":"bits"},"y2":{"datum":1.1667}}}]}
]},
{"width":22,"height":87,"data":{"values":[{"sp":"Hsa"}]},"mark":{"type":"text","font":"Open Sans","fontSize":21,"fontWeight":"bold","color":"#111"},"encoding":{"text":{"field":"sp"}}},
{"width":372,"height":87,
"encoding":{"x":{"field":"pos","type":"quantitative","scale":{"domain":[0.5,21.5],"nice":false,"zero":false},"axis":{"values":[1,2,3,4,5,6,7,8,9,10,11,12,13,14,15,16,17,18,19,20,21],"tickCount":30,"labelExpr":"datum.value % 5 == 0 ? datum.label : ''","tickSize":4,"title":null}}},
"layer":[
{"data":{"name":"logo"},"transform":[{"filter":"datum.p=='a3'"},{"fold":["A","C","G","U"],"as":["l","b"]},{"filter":"datum.b>0"},{"stack":"b","groupby":["pos"],"sort":[{"field":"b","order":"ascending"}],"as":["b0","b1"]}],
"layer":[
{"transform":[{"aggregate":[{"op":"max","field":"b1","as":"t"},{"op":"max","field":"e","as":"e"}],"groupby":["pos"]}],"layer":[
{"mark":{"type":"rule","color":"#c8c8c8","strokeWidth":1},"encoding":{"y":{"field":"t","type":"quantitative","scale":{"domain":[0,1],"nice":false},"axis":{"values":[0,0.1,0.2,0.3,0.4,0.5,0.6,0.7,0.8,0.9,1],"tickCount":30,"labelExpr":"abs(datum.value*2-round(datum.value*2))<0.001 ? format(datum.value,'.1f') : ''","tickSize":{"condition":{"test":"abs(datum.value*2-round(datum.value*2))<0.001","value":5},"value":3},"title":"bits"}},"y2":{"field":"e"}}},
{"mark":{"type":"tick","orient":"horizontal","size":6,"thickness":1,"color":"#c8c8c8"},"encoding":{"y":{"field":"e","type":"quantitative","title":"bits"}}}]},
{"mark":{"type":"bar","width":16,"opacity":0.55},"encoding":{"y":{"field":"b0","type":"quantitative","title":"bits"},"y2":{"field":"b1"},"color":{"field":"l","type":"nominal","scale":{"domain":["A","C","G","U"],"range":["#f7941e","#2525dc","#2525dc","#f7941e"]},"legend":null}}},
{"transform":[{"filter":"datum.b>=0.04"}],"mark":{"type":"text","baseline":"alphabetic","font":"Liberation Sans","fontWeight":"bold"},"encoding":{"y":{"field":"b0","type":"quantitative","title":"bits"},"text":{"field":"l"},"color":{"field":"l","type":"nominal","legend":null},"size":{"field":"b","type":"quantitative","scale":{"domain":[0,0.17],"range":[0,20.7],"clamp":true},"legend":null}}}
]},
{"data":{"name":"logo"},"transform":[{"filter":"datum.p=='a3' && datum.pos==1"}],"layer":[
{"mark":{"type":"rule","color":"#2fd12f","strokeWidth":3,"strokeDash":[11,6]},"encoding":{"x":{"datum":10.35,"type":"quantitative"},"y":{"datum":-0.1667,"type":"quantitative","title":"bits"},"y2":{"datum":1.1667}}},
{"mark":{"type":"rule","color":"#2fd12f","strokeWidth":3,"strokeDash":[11,6]},"encoding":{"x":{"datum":15.6,"type":"quantitative"},"y":{"datum":-0.1667,"type":"quantitative","title":"bits"},"y2":{"datum":1.1667}}}]}
]},
{"width":372,"height":87,
"encoding":{"x":{"field":"pos","type":"quantitative","scale":{"domain":[0.5,21.5],"nice":false,"zero":false},"axis":{"values":[1,2,3,4,5,6,7,8,9,10,11,12,13,14,15,16,17,18,19,20,21],"tickCount":30,"labelExpr":"datum.value % 5 == 0 ? datum.label : ''","tickSize":4,"title":null}}},
"layer":[
{"data":{"name":"logo"},"transform":[{"filter":"datum.p=='r3'"},{"fold":["A","C","G","U"],"as":["l","b"]},{"filter":"datum.b>0"},{"stack":"b","groupby":["pos"],"sort":[{"field":"b","order":"ascending"}],"as":["b0","b1"]}],
"layer":[
{"transform":[{"aggregate":[{"op":"max","field":"b1","as":"t"},{"op":"max","field":"e","as":"e"}],"groupby":["pos"]}],"layer":[
{"mark":{"type":"rule","color":"#c8c8c8","strokeWidth":1},"encoding":{"y":{"field":"t","type":"quantitative","scale":{"domain":[0,1],"nice":false},"axis":{"values":[0,0.1,0.2,0.3,0.4,0.5,0.6,0.7,0.8,0.9,1],"tickCount":30,"labelExpr":"abs(datum.value*2-round(datum.value*2))<0.001 ? format(datum.value,'.1f') : ''","tickSize":{"condition":{"test":"abs(datum.value*2-round(datum.value*2))<0.001","value":5},"value":3},"title":"bits"}},"y2":{"field":"e"}}},
{"mark":{"type":"tick","orient":"horizontal","size":6,"thickness":1,"color":"#c8c8c8"},"encoding":{"y":{"field":"e","type":"quantitative","title":"bits"}}}]},
{"mark":{"type":"bar","width":16,"opacity":0.55},"encoding":{"y":{"field":"b0","type":"quantitative","title":"bits"},"y2":{"field":"b1"},"color":{"field":"l","type":"nominal","scale":{"domain":["A","C","G","U"],"range":["#f7941e","#2525dc","#2525dc","#f7941e"]},"legend":null}}},
{"transform":[{"filter":"datum.b>=0.04"}],"mark":{"type":"text","baseline":"alphabetic","font":"Liberation Sans","fontWeight":"bold"},"encoding":{"y":{"field":"b0","type":"quantitative","title":"bits"},"text":{"field":"l"},"color":{"field":"l","type":"nominal","legend":null},"size":{"field":"b","type":"quantitative","scale":{"domain":[0,0.17],"range":[0,20.7],"clamp":true},"legend":null}}}
]},
{"data":{"name":"logo"},"transform":[{"filter":"datum.p=='r3' && datum.pos==1"}],"layer":[
{"mark":{"type":"rule","color":"#7f7f7f","strokeWidth":3,"strokeDash":[11,6]},"encoding":{"x":{"datum":10.35,"type":"quantitative"},"y":{"datum":-0.1667,"type":"quantitative","title":"bits"},"y2":{"datum":1.1667}}},
{"mark":{"type":"rule","color":"#7f7f7f","strokeWidth":3,"strokeDash":[11,6]},"encoding":{"x":{"datum":15.6,"type":"quantitative"},"y":{"datum":-0.1667,"type":"quantitative","title":"bits"},"y2":{"datum":1.1667}}}]}
]},
{"width":22,"height":87,"data":{"values":[{"sp":"Mmu"}]},"mark":{"type":"text","font":"Open Sans","fontSize":21,"fontWeight":"bold","color":"#111"},"encoding":{"text":{"field":"sp"}}},
{"width":372,"height":87,
"encoding":{"x":{"field":"pos","type":"quantitative","scale":{"domain":[0.5,21.5],"nice":false,"zero":false},"axis":{"values":[1,2,3,4,5,6,7,8,9,10,11,12,13,14,15,16,17,18,19,20,21],"tickCount":30,"labelExpr":"datum.value % 5 == 0 ? datum.label : ''","tickSize":4,"title":"Nucleotide position"}}},
"layer":[
{"data":{"name":"logo"},"transform":[{"filter":"datum.p=='a4'"},{"fold":["A","C","G","U"],"as":["l","b"]},{"filter":"datum.b>0"},{"stack":"b","groupby":["pos"],"sort":[{"field":"b","order":"ascending"}],"as":["b0","b1"]}],
"layer":[
{"transform":[{"aggregate":[{"op":"max","field":"b1","as":"t"},{"op":"max","field":"e","as":"e"}],"groupby":["pos"]}],"layer":[
{"mark":{"type":"rule","color":"#c8c8c8","strokeWidth":1},"encoding":{"y":{"field":"t","type":"quantitative","scale":{"domain":[0,1],"nice":false},"axis":{"values":[0,0.1,0.2,0.3,0.4,0.5,0.6,0.7,0.8,0.9,1],"tickCount":30,"labelExpr":"abs(datum.value*2-round(datum.value*2))<0.001 ? format(datum.value,'.1f') : ''","tickSize":{"condition":{"test":"abs(datum.value*2-round(datum.value*2))<0.001","value":5},"value":3},"title":"bits"}},"y2":{"field":"e"}}},
{"mark":{"type":"tick","orient":"horizontal","size":6,"thickness":1,"color":"#c8c8c8"},"encoding":{"y":{"field":"e","type":"quantitative","title":"bits"}}}]},
{"mark":{"type":"bar","width":16,"opacity":0.55},"encoding":{"y":{"field":"b0","type":"quantitative","title":"bits"},"y2":{"field":"b1"},"color":{"field":"l","type":"nominal","scale":{"domain":["A","C","G","U"],"range":["#f7941e","#2525dc","#2525dc","#f7941e"]},"legend":null}}},
{"transform":[{"filter":"datum.b>=0.04"}],"mark":{"type":"text","baseline":"alphabetic","font":"Liberation Sans","fontWeight":"bold"},"encoding":{"y":{"field":"b0","type":"quantitative","title":"bits"},"text":{"field":"l"},"color":{"field":"l","type":"nominal","legend":null},"size":{"field":"b","type":"quantitative","scale":{"domain":[0,0.17],"range":[0,20.7],"clamp":true},"legend":null}}}
]},
{"data":{"name":"logo"},"transform":[{"filter":"datum.p=='a4' && datum.pos==1"}],"layer":[
{"mark":{"type":"rule","color":"#2fd12f","strokeWidth":3,"strokeDash":[11,6]},"encoding":{"x":{"datum":10.35,"type":"quantitative"},"y":{"datum":-0.24,"type":"quantitative","title":"bits"},"y2":{"datum":1.1667}}},
{"mark":{"type":"rule","color":"#2fd12f","strokeWidth":3,"strokeDash":[11,6]},"encoding":{"x":{"datum":15.6,"type":"quantitative"},"y":{"datum":-0.24,"type":"quantitative","title":"bits"},"y2":{"datum":1.1667}}},
{"mark":{"type":"rule","color":"#2fd12f","strokeWidth":3,"strokeDash":[11,6]},"encoding":{"x":{"datum":10.35,"type":"quantitative"},"x2":{"datum":15.6},"y":{"datum":-0.24,"type":"quantitative","title":"bits"}}}]}
]},
{"width":372,"height":87,
"encoding":{"x":{"field":"pos","type":"quantitative","scale":{"domain":[0.5,21.5],"nice":false,"zero":false},"axis":{"values":[1,2,3,4,5,6,7,8,9,10,11,12,13,14,15,16,17,18,19,20,21],"tickCount":30,"labelExpr":"datum.value % 5 == 0 ? datum.label : ''","tickSize":4,"title":"Nucleotide position"}}},
"layer":[
{"data":{"name":"logo"},"transform":[{"filter":"datum.p=='r4'"},{"fold":["A","C","G","U"],"as":["l","b"]},{"filter":"datum.b>0"},{"stack":"b","groupby":["pos"],"sort":[{"field":"b","order":"ascending"}],"as":["b0","b1"]}],
"layer":[
{"transform":[{"aggregate":[{"op":"max","field":"b1","as":"t"},{"op":"max","field":"e","as":"e"}],"groupby":["pos"]}],"layer":[
{"mark":{"type":"rule","color":"#c8c8c8","strokeWidth":1},"encoding":{"y":{"field":"t","type":"quantitative","scale":{"domain":[0,1],"nice":false},"axis":{"values":[0,0.1,0.2,0.3,0.4,0.5,0.6,0.7,0.8,0.9,1],"tickCount":30,"labelExpr":"abs(datum.value*2-round(datum.value*2))<0.001 ? format(datum.value,'.1f') : ''","tickSize":{"condition":{"test":"abs(datum.value*2-round(datum.value*2))<0.001","value":5},"value":3},"title":"bits"}},"y2":{"field":"e"}}},
{"mark":{"type":"tick","orient":"horizontal","size":6,"thickness":1,"color":"#c8c8c8"},"encoding":{"y":{"field":"e","type":"quantitative","title":"bits"}}}]},
{"mark":{"type":"bar","width":16,"opacity":0.55},"encoding":{"y":{"field":"b0","type":"quantitative","title":"bits"},"y2":{"field":"b1"},"color":{"field":"l","type":"nominal","scale":{"domain":["A","C","G","U"],"range":["#f7941e","#2525dc","#2525dc","#f7941e"]},"legend":null}}},
{"transform":[{"filter":"datum.b>=0.04"}],"mark":{"type":"text","baseline":"alphabetic","font":"Liberation Sans","fontWeight":"bold"},"encoding":{"y":{"field":"b0","type":"quantitative","title":"bits"},"text":{"field":"l"},"color":{"field":"l","type":"nominal","legend":null},"size":{"field":"b","type":"quantitative","scale":{"domain":[0,0.17],"range":[0,20.7],"clamp":true},"legend":null}}}
]},
{"data":{"name":"logo"},"transform":[{"filter":"datum.p=='r4' && datum.pos==1"}],"layer":[
{"mark":{"type":"rule","color":"#7f7f7f","strokeWidth":3,"strokeDash":[11,6]},"encoding":{"x":{"datum":10.35,"type":"quantitative"},"y":{"datum":-0.24,"type":"quantitative","title":"bits"},"y2":{"datum":1.1667}}},
{"mark":{"type":"rule","color":"#7f7f7f","strokeWidth":3,"strokeDash":[11,6]},"encoding":{"x":{"datum":15.6,"type":"quantitative"},"y":{"datum":-0.24,"type":"quantitative","title":"bits"},"y2":{"datum":1.1667}}},
{"mark":{"type":"rule","color":"#7f7f7f","strokeWidth":3,"strokeDash":[11,6]},"encoding":{"x":{"datum":10.35,"type":"quantitative"},"x2":{"datum":15.6},"y":{"datum":-0.24,"type":"quantitative","title":"bits"}}}]}
]},
{"width":22,"height":21,"data":{"values":[{}]},"mark":{"type":"point","opacity":0},"encoding":{}},
{"width":372,"height":21,"data":{"values":[{}]},"mark":{"type":"point","opacity":0},"encoding":{}},
{"width":372,"height":21,"data":{"values":[{}]},"mark":{"type":"point","opacity":0},"encoding":{}},
{"title":{"text":"B","anchor":"start","dx":-46.5,"offset":-3,"baseline":"alphabetic","font":"Open Sans","fontSize":20,"fontWeight":"bold","color":"#111"},"width":22,"height":87,"data":{"values":[{"sp":"Ath"}]},"mark":{"type":"text","font":"Open Sans","fontSize":21,"fontWeight":"bold","color":"#111"},"encoding":{"text":{"field":"sp"}}},
{"width":372,"height":87,
"encoding":{"x":{"field":"pos","type":"quantitative","scale":{"domain":[0.5,21.5],"nice":false,"zero":false},"axis":{"values":[1,2,3,4,5,6,7,8,9,10,11,12,13,14,15,16,17,18,19,20,21],"tickCount":30,"labelExpr":"datum.value % 5 == 0 ? datum.label : ''","tickSize":4,"title":null}}},
"layer":[
{"data":{"name":"logo"},"transform":[{"filter":"datum.p=='b1'"},{"fold":["A","C","G","U"],"as":["l","b"]},{"filter":"datum.b>0"},{"stack":"b","groupby":["pos"],"sort":[{"field":"b","order":"ascending"}],"as":["b0","b1"]}],
"layer":[
{"transform":[{"aggregate":[{"op":"max","field":"b1","as":"t"},{"op":"max","field":"e","as":"e"}],"groupby":["pos"]}],"layer":[
{"mark":{"type":"rule","color":"#c8c8c8","strokeWidth":1},"encoding":{"y":{"field":"t","type":"quantitative","scale":{"domain":[0,1],"nice":false},"axis":{"values":[0,0.1,0.2,0.3,0.4,0.5,0.6,0.7,0.8,0.9,1],"tickCount":30,"labelExpr":"abs(datum.value*2-round(datum.value*2))<0.001 ? format(datum.value,'.1f') : ''","tickSize":{"condition":{"test":"abs(datum.value*2-round(datum.value*2))<0.001","value":5},"value":3},"title":"bits"}},"y2":{"field":"e"}}},
{"mark":{"type":"tick","orient":"horizontal","size":6,"thickness":1,"color":"#c8c8c8"},"encoding":{"y":{"field":"e","type":"quantitative","title":"bits"}}}]},
{"mark":{"type":"bar","width":16,"opacity":0.55},"encoding":{"y":{"field":"b0","type":"quantitative","title":"bits"},"y2":{"field":"b1"},"color":{"field":"l","type":"nominal","scale":{"domain":["A","C","G","U"],"range":["#f7941e","#2525dc","#2525dc","#f7941e"]},"legend":null}}},
{"transform":[{"filter":"datum.b>=0.04"}],"mark":{"type":"text","baseline":"alphabetic","font":"Liberation Sans","fontWeight":"bold"},"encoding":{"y":{"field":"b0","type":"quantitative","title":"bits"},"text":{"field":"l"},"color":{"field":"l","type":"nominal","legend":null},"size":{"field":"b","type":"quantitative","scale":{"domain":[0,0.17],"range":[0,20.7],"clamp":true},"legend":null}}}
]},
{"data":{"name":"logo"},"transform":[{"filter":"datum.p=='b1' && datum.pos==1"}],"layer":[
{"mark":{"type":"rule","color":"#2fd12f","strokeWidth":3,"strokeDash":[11,6]},"encoding":{"x":{"datum":11.3,"type":"quantitative"},"y":{"datum":-0.1667,"type":"quantitative","title":"bits"},"y2":{"datum":1.05}}},
{"mark":{"type":"rule","color":"#2fd12f","strokeWidth":3,"strokeDash":[11,6]},"encoding":{"x":{"datum":12.62,"type":"quantitative"},"y":{"datum":-0.1667,"type":"quantitative","title":"bits"},"y2":{"datum":1.05}}},
{"mark":{"type":"rule","color":"#2fd12f","strokeWidth":3,"strokeDash":[11,6]},"encoding":{"x":{"datum":11.3,"type":"quantitative"},"x2":{"datum":12.62},"y":{"datum":1.05,"type":"quantitative","title":"bits"}}}]}
]},
{"width":372,"height":87,
"encoding":{"x":{"field":"pos","type":"quantitative","scale":{"domain":[0.5,21.5],"nice":false,"zero":false},"axis":{"values":[1,2,3,4,5,6,7,8,9,10,11,12,13,14,15,16,17,18,19,20,21],"tickCount":30,"labelExpr":"datum.value % 5 == 0 ? datum.label : ''","tickSize":4,"title":null}}},
"layer":[
{"data":{"name":"logo"},"transform":[{"filter":"datum.p=='b3'"},{"fold":["A","C","G","U"],"as":["l","b"]},{"filter":"datum.b>0"},{"stack":"b","groupby":["pos"],"sort":[{"field":"b","order":"ascending"}],"as":["b0","b1"]}],
"layer":[
{"transform":[{"aggregate":[{"op":"max","field":"b1","as":"t"},{"op":"max","field":"e","as":"e"}],"groupby":["pos"]}],"layer":[
{"mark":{"type":"rule","color":"#c8c8c8","strokeWidth":1},"encoding":{"y":{"field":"t","type":"quantitative","scale":{"domain":[0,1],"nice":false},"axis":{"values":[0,0.1,0.2,0.3,0.4,0.5,0.6,0.7,0.8,0.9,1],"tickCount":30,"labelExpr":"abs(datum.value*2-round(datum.value*2))<0.001 ? format(datum.value,'.1f') : ''","tickSize":{"condition":{"test":"abs(datum.value*2-round(datum.value*2))<0.001","value":5},"value":3},"title":"bits"}},"y2":{"field":"e"}}},
{"mark":{"type":"tick","orient":"horizontal","size":6,"thickness":1,"color":"#c8c8c8"},"encoding":{"y":{"field":"e","type":"quantitative","title":"bits"}}}]},
{"mark":{"type":"bar","width":16,"opacity":0.55},"encoding":{"y":{"field":"b0","type":"quantitative","title":"bits"},"y2":{"field":"b1"},"color":{"field":"l","type":"nominal","scale":{"domain":["A","C","G","U"],"range":["#f7941e","#2525dc","#2525dc","#f7941e"]},"legend":null}}},
{"transform":[{"filter":"datum.b>=0.04"}],"mark":{"type":"text","baseline":"alphabetic","font":"Liberation Sans","fontWeight":"bold"},"encoding":{"y":{"field":"b0","type":"quantitative","title":"bits"},"text":{"field":"l"},"color":{"field":"l","type":"nominal","legend":null},"size":{"field":"b","type":"quantitative","scale":{"domain":[0,0.17],"range":[0,20.7],"clamp":true},"legend":null}}}
]},
{"data":{"name":"logo"},"transform":[{"filter":"datum.p=='b3' && datum.pos==1"}],"layer":[
{"mark":{"type":"rule","color":"#7f7f7f","strokeWidth":3,"strokeDash":[11,6]},"encoding":{"x":{"datum":11.3,"type":"quantitative"},"y":{"datum":-0.1667,"type":"quantitative","title":"bits"},"y2":{"datum":1.05}}},
{"mark":{"type":"rule","color":"#7f7f7f","strokeWidth":3,"strokeDash":[11,6]},"encoding":{"x":{"datum":12.62,"type":"quantitative"},"y":{"datum":-0.1667,"type":"quantitative","title":"bits"},"y2":{"datum":1.05}}},
{"mark":{"type":"rule","color":"#7f7f7f","strokeWidth":3,"strokeDash":[11,6]},"encoding":{"x":{"datum":11.3,"type":"quantitative"},"x2":{"datum":12.62},"y":{"datum":1.05,"type":"quantitative","title":"bits"}}}]}
]},
{"width":22,"height":87,"data":{"values":[{"sp":"Osa"}]},"mark":{"type":"text","font":"Open Sans","fontSize":21,"fontWeight":"bold","color":"#111"},"encoding":{"text":{"field":"sp"}}},
{"width":372,"height":87,
"encoding":{"x":{"field":"pos","type":"quantitative","scale":{"domain":[0.5,21.5],"nice":false,"zero":false},"axis":{"values":[1,2,3,4,5,6,7,8,9,10,11,12,13,14,15,16,17,18,19,20,21],"tickCount":30,"labelExpr":"datum.value % 5 == 0 ? datum.label : ''","tickSize":4,"title":"Nucleotide position"}}},
"layer":[
{"data":{"name":"logo"},"transform":[{"filter":"datum.p=='b2'"},{"fold":["A","C","G","U"],"as":["l","b"]},{"filter":"datum.b>0"},{"stack":"b","groupby":["pos"],"sort":[{"field":"b","order":"ascending"}],"as":["b0","b1"]}],
"layer":[
{"transform":[{"aggregate":[{"op":"max","field":"b1","as":"t"},{"op":"max","field":"e","as":"e"}],"groupby":["pos"]}],"layer":[
{"mark":{"type":"rule","color":"#c8c8c8","strokeWidth":1},"encoding":{"y":{"field":"t","type":"quantitative","scale":{"domain":[0,1],"nice":false},"axis":{"values":[0,0.1,0.2,0.3,0.4,0.5,0.6,0.7,0.8,0.9,1],"tickCount":30,"labelExpr":"abs(datum.value*2-round(datum.value*2))<0.001 ? format(datum.value,'.1f') : ''","tickSize":{"condition":{"test":"abs(datum.value*2-round(datum.value*2))<0.001","value":5},"value":3},"title":"bits"}},"y2":{"field":"e"}}},
{"mark":{"type":"tick","orient":"horizontal","size":6,"thickness":1,"color":"#c8c8c8"},"encoding":{"y":{"field":"e","type":"quantitative","title":"bits"}}}]},
{"mark":{"type":"bar","width":16,"opacity":0.55},"encoding":{"y":{"field":"b0","type":"quantitative","title":"bits"},"y2":{"field":"b1"},"color":{"field":"l","type":"nominal","scale":{"domain":["A","C","G","U"],"range":["#f7941e","#2525dc","#2525dc","#f7941e"]},"legend":null}}},
{"transform":[{"filter":"datum.b>=0.04"}],"mark":{"type":"text","baseline":"alphabetic","font":"Liberation Sans","fontWeight":"bold"},"encoding":{"y":{"field":"b0","type":"quantitative","title":"bits"},"text":{"field":"l"},"color":{"field":"l","type":"nominal","legend":null},"size":{"field":"b","type":"quantitative","scale":{"domain":[0,0.17],"range":[0,20.7],"clamp":true},"legend":null}}}
]},
{"data":{"name":"logo"},"transform":[{"filter":"datum.p=='b2' && datum.pos==1"}],"layer":[
{"mark":{"type":"rule","color":"#2fd12f","strokeWidth":3,"strokeDash":[11,6]},"encoding":{"x":{"datum":11.3,"type":"quantitative"},"y":{"datum":-0.24,"type":"quantitative","title":"bits"},"y2":{"datum":1.1667}}},
{"mark":{"type":"rule","color":"#2fd12f","strokeWidth":3,"strokeDash":[11,6]},"encoding":{"x":{"datum":12.62,"type":"quantitative"},"y":{"datum":-0.24,"type":"quantitative","title":"bits"},"y2":{"datum":1.1667}}},
{"mark":{"type":"rule","color":"#2fd12f","strokeWidth":3,"strokeDash":[11,6]},"encoding":{"x":{"datum":11.3,"type":"quantitative"},"x2":{"datum":12.62},"y":{"datum":-0.24,"type":"quantitative","title":"bits"}}}]}
]},
{"width":372,"height":87,
"encoding":{"x":{"field":"pos","type":"quantitative","scale":{"domain":[0.5,21.5],"nice":false,"zero":false},"axis":{"values":[1,2,3,4,5,6,7,8,9,10,11,12,13,14,15,16,17,18,19,20,21],"tickCount":30,"labelExpr":"datum.value % 5 == 0 ? datum.label : ''","tickSize":4,"title":"Nucleotide position"}}},
"layer":[
{"data":{"name":"logo"},"transform":[{"filter":"datum.p=='b4'"},{"fold":["A","C","G","U"],"as":["l","b"]},{"filter":"datum.b>0"},{"stack":"b","groupby":["pos"],"sort":[{"field":"b","order":"ascending"}],"as":["b0","b1"]}],
"layer":[
{"transform":[{"aggregate":[{"op":"max","field":"b1","as":"t"},{"op":"max","field":"e","as":"e"}],"groupby":["pos"]}],"layer":[
{"mark":{"type":"rule","color":"#c8c8c8","strokeWidth":1},"encoding":{"y":{"field":"t","type":"quantitative","scale":{"domain":[0,1],"nice":false},"axis":{"values":[0,0.1,0.2,0.3,0.4,0.5,0.6,0.7,0.8,0.9,1],"tickCount":30,"labelExpr":"abs(datum.value*2-round(datum.value*2))<0.001 ? format(datum.value,'.1f') : ''","tickSize":{"condition":{"test":"abs(datum.value*2-round(datum.value*2))<0.001","value":5},"value":3},"title":"bits"}},"y2":{"field":"e"}}},
{"mark":{"type":"tick","orient":"horizontal","size":6,"thickness":1,"color":"#c8c8c8"},"encoding":{"y":{"field":"e","type":"quantitative","title":"bits"}}}]},
{"mark":{"type":"bar","width":16,"opacity":0.55},"encoding":{"y":{"field":"b0","type":"quantitative","title":"bits"},"y2":{"field":"b1"},"color":{"field":"l","type":"nominal","scale":{"domain":["A","C","G","U"],"range":["#f7941e","#2525dc","#2525dc","#f7941e"]},"legend":null}}},
{"transform":[{"filter":"datum.b>=0.04"}],"mark":{"type":"text","baseline":"alphabetic","font":"Liberation Sans","fontWeight":"bold"},"encoding":{"y":{"field":"b0","type":"quantitative","title":"bits"},"text":{"field":"l"},"color":{"field":"l","type":"nominal","legend":null},"size":{"field":"b","type":"quantitative","scale":{"domain":[0,0.17],"range":[0,20.7],"clamp":true},"legend":null}}}
]},
{"data":{"name":"logo"},"transform":[{"filter":"datum.p=='b4' && datum.pos==1"}],"layer":[
{"mark":{"type":"rule","color":"#7f7f7f","strokeWidth":3,"strokeDash":[11,6]},"encoding":{"x":{"datum":11.3,"type":"quantitative"},"y":{"datum":-0.24,"type":"quantitative","title":"bits"},"y2":{"datum":1.1667}}},
{"mark":{"type":"rule","color":"#7f7f7f","strokeWidth":3,"strokeDash":[11,6]},"encoding":{"x":{"datum":12.62,"type":"quantitative"},"y":{"datum":-0.24,"type":"quantitative","title":"bits"},"y2":{"datum":1.1667}}},
{"mark":{"type":"rule","color":"#7f7f7f","strokeWidth":3,"strokeDash":[11,6]},"encoding":{"x":{"datum":11.3,"type":"quantitative"},"x2":{"datum":12.62},"y":{"datum":-0.24,"type":"quantitative","title":"bits"}}}]}
]}
]
}
